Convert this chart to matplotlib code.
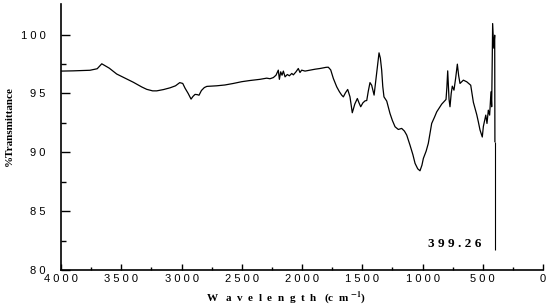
import matplotlib

matplotlib.use("Agg")
import matplotlib.pyplot as plt
from matplotlib.ticker import FixedLocator

# FTIR spectrum
wavenumber = [
    4000, 3900, 3800, 3760, 3700, 3662, 3600, 3538, 3470, 3400,
    3330, 3289, 3240, 3206, 3150, 3095, 3050, 3015, 2990, 2971,
    2945, 2921, 2905, 2888, 2870, 2855, 2835, 2811, 2790, 2708,
    2640, 2570, 2500, 2432, 2349, 2293, 2266, 2238, 2216, 2197,
    2188, 2177, 2166, 2155, 2141, 2122, 2105, 2085, 2072, 2050,
    2031, 2017, 2003, 1975, 1934, 1892, 1851, 1800, 1782, 1762,
    1740, 1712, 1690, 1671, 1657, 1640, 1621, 1602, 1583, 1562,
    1541, 1527, 1513, 1495, 1477, 1463, 1450, 1436, 1422, 1402,
    1380, 1361, 1350, 1339, 1330, 1320, 1297, 1270, 1250, 1228,
    1201, 1173, 1150, 1131, 1104, 1080, 1062, 1040, 1021, 1005,
    993, 970, 952, 924, 900, 882, 841, 805, 798, 791,
    780, 772, 762, 753, 739, 725, 711, 700, 689, 661,
    633, 600, 578, 550, 537, 523, 504, 495, 487, 475,
    465, 454, 443, 432, 426, 418, 409, 404, 401, 399.26,
]
transmittance = [
    96.90, 96.92, 96.95, 96.97, 97.10, 97.52, 97.15, 96.65, 96.30, 95.95,
    95.55, 95.35, 95.22, 95.22, 95.33, 95.48, 95.65, 95.92, 95.85, 95.45,
    95.00, 94.52, 94.75, 94.92, 94.90, 94.85, 95.25, 95.50, 95.60, 95.65,
    95.72, 95.85, 96.00, 96.10, 96.20, 96.30, 96.25, 96.35, 96.55, 96.98,
    96.20, 96.84, 96.55, 96.90, 96.41, 96.61, 96.50, 96.70, 96.58, 96.84,
    97.12, 96.78, 96.98, 96.90, 96.98, 97.06, 97.12, 97.22, 97.23, 97.00,
    96.27, 95.56, 95.15, 94.86, 94.71, 95.05, 95.34, 94.71, 93.36, 94.10,
    94.57, 94.20, 93.87, 94.20, 94.37, 94.40, 95.20, 95.92, 95.70, 94.86,
    96.80, 98.45, 98.00, 96.98, 95.60, 94.71, 94.35, 93.30, 92.70, 92.17,
    91.94, 92.03, 91.80, 91.46, 90.61, 89.80, 89.06, 88.60, 88.43, 88.90,
    89.48, 90.10, 90.76, 92.45, 93.00, 93.44, 94.09, 94.49, 95.50, 96.92,
    94.50, 93.87, 95.00, 95.62, 95.28, 96.30, 97.49, 96.50, 95.85, 96.13,
    95.99, 95.70, 94.25, 93.20, 92.60, 91.90, 91.30, 92.20, 92.60, 93.16,
    92.45, 93.58, 93.16, 95.14, 93.87, 100.94, 98.85, 99.50, 99.95, 90.90,
]

peak_pos = 399.26
peak_label = "3 9 9 . 2 6"
marker_bottom = 81.7

x_ticks = [4000, 3500, 3000, 2500, 2000, 1500, 1000, 500, 0]
x_labels = ["4 0 0 0", "3 5 0 0", "3 0 0 0", "2 5 0 0", "2 0 0 0",
            "1 5 0 0", "1 0 0 0", "5 0 0", "0"]
y_ticks = [80, 85, 90, 95, 100]
y_labels = ["8 0", "8 5", "9 0", "9 5", "1 0 0"]

plt.rcParams["mathtext.fontset"] = "stix"

fig = plt.figure(figsize=(5.5, 3.08), dpi=100)
ax = fig.add_axes([0.111, 0.1234, 0.8763, 0.8636])

ax.plot(wavenumber, transmittance, color="black", lw=0.9)
ax.vlines(peak_pos, marker_bottom, transmittance[-1], color="black", lw=0.8)
ax.annotate(peak_label, xy=(peak_pos, 82.2), xytext=(-9.5, 0),
            textcoords="offset points", ha="right", va="center",
            fontsize=9.5, fontweight="bold", family="Liberation Serif")

ax.set_xlim(4000, 0)
ax.set_ylim(80, 102.6)

ax.set_xticks(x_ticks)
ax.set_xticklabels(x_labels)
ax.set_yticks(y_ticks)
ax.set_yticklabels(y_labels)
ax.xaxis.set_minor_locator(FixedLocator(range(250, 4000, 500)))
ax.yaxis.set_minor_locator(FixedLocator([82.5, 87.5, 92.5, 97.5]))

ax.tick_params(axis="x", which="major", direction="in", length=4.5, width=1, pad=3)
ax.tick_params(axis="x", which="minor", direction="in", length=2.5, width=1)
ax.tick_params(axis="y", which="major", direction="in", length=6.5, width=1, pad=11)
ax.tick_params(axis="y", which="minor", direction="in", length=3.5, width=1)
for lab in ax.get_xticklabels() + ax.get_yticklabels():
    lab.set_family("Liberation Sans")
    lab.set_fontsize(8)

for side in ("top", "right"):
    ax.spines[side].set_visible(False)
for side in ("left", "bottom"):
    ax.spines[side].set_linewidth(1.2)

ax.set_xlabel(r"W   a  v  e  l  e  n  g  t  h   (c  m $^{\mathbf{-1}}$)",
              family="Liberation Serif", fontweight="bold", fontsize=8, labelpad=4)
ax.set_ylabel("%Transmittance", family="Liberation Serif", fontweight="bold",
              fontsize=8, labelpad=5)
# labels sit a bit off-centre in the original
ax.xaxis.label.set_x(0.467)
ax.yaxis.label.set_y(0.54)

fig.savefig("out.png", dpi=100)
